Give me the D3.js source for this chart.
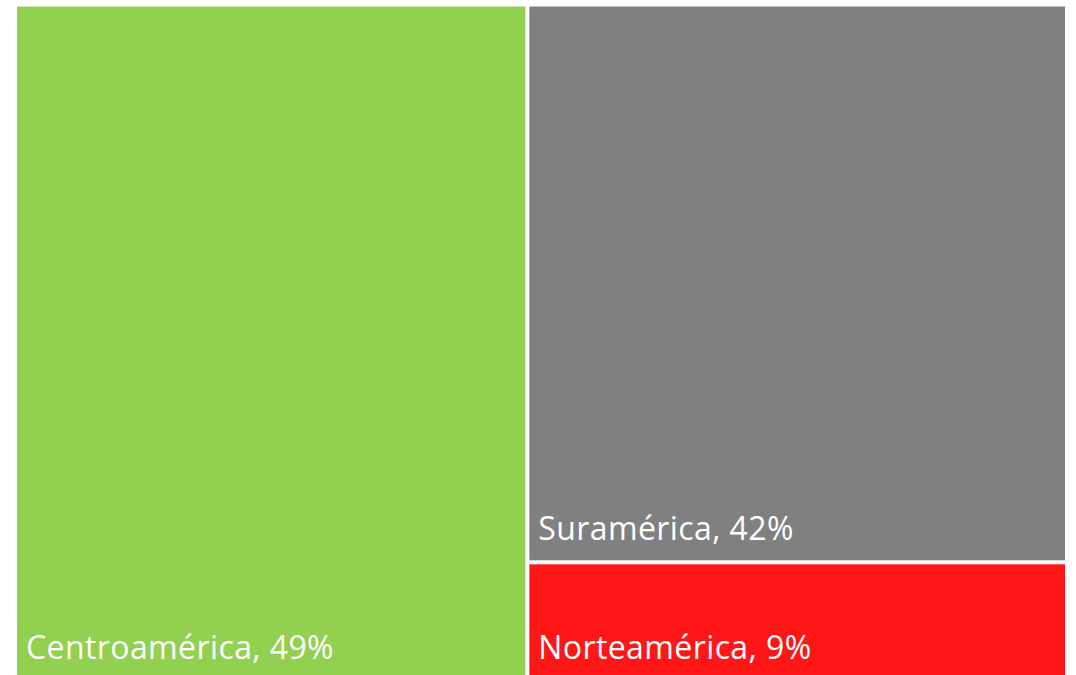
<!DOCTYPE html>
<html>
<head>
<meta charset="utf-8">
<script src="https://cdn.jsdelivr.net/npm/d3@7"></script>
<style>
  html, body { margin: 0; padding: 0; background: #fff; }
  svg { display: block; }
</style>
</head>
<body>
<svg id="chart" width="1076" height="675"></svg>
<script>
'use strict'

// regions and their share (%)
const regions = ['Centroamérica', 'Suramérica', 'Norteamérica']
const shares = [48.7, 42.3, 9.0]
const colors = ['#92D050', '#808080', '#FF1616']

const width = 1076, height = 675
// plot area of the treemap (bottom row runs a bit past the window)
const area = { left: 17, top: 6.5, right: 1065, bottom: 679 }

const svg = d3.select('#chart')

const root = d3.hierarchy({
    children: regions.map((name, i) => ({ name, value: shares[i], color: colors[i] }))
  })
  .sum(d => d.value || 0)

d3.treemap()
  .tile(d3.treemapBinary)
  .size([area.right - area.left, area.bottom - area.top])
  .paddingInner(4)(root)

const cells = svg.append('g')
  .attr('transform', `translate(${area.left},${area.top})`)
  .selectAll('g')
  .data(root.leaves())
  .join('g')

cells.append('rect')
  .attr('x', d => d.x0)
  .attr('y', d => d.y0)
  .attr('width', d => d.x1 - d.x0)
  .attr('height', d => d.y1 - d.y0)
  .attr('fill', d => d.data.color)

cells.append('text')
  .attr('x', d => d.x0 + 9)
  .attr('y', d => d.y1 - 20)
  .attr('fill', '#fff')
  .style('font-family', '"Open Sans", sans-serif')
  .style('font-size', '32px')
  .style('letter-spacing', '0.4px')
  .text(d => `${d.data.name}, ${Math.round(d.data.value)}%`)
</script>
</body>
</html>
